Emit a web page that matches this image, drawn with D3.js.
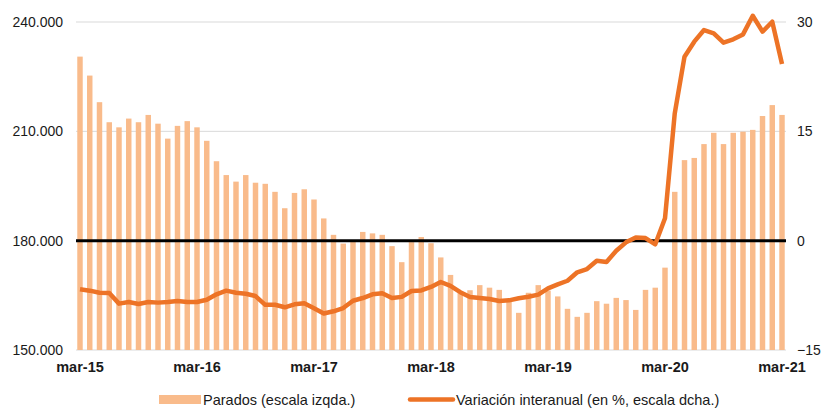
<!DOCTYPE html>
<html>
<head>
<meta charset="utf-8">
<script src="https://cdn.jsdelivr.net/npm/d3@7"></script>
<style>
  html, body { margin: 0; padding: 0; background: #fff; }
  svg { display: block; font-family: "Liberation Sans", Arial, sans-serif; }
</style>
</head>
<body>
<svg id="chart" width="821" height="408"></svg>
<script>
// ---- Data ----
const months = ["mar","abr","may","jun","jul","ago","sep","oct","nov","dic","ene","feb"];
const startYear = 15;
const nMonths = 73;

// Parados (thousands of persons), monthly mar-15 .. mar-21
const parados = [
  230.5, 225.3, 218.0, 212.5, 211.1, 213.5, 212.5, 214.5, 212.1, 208.0,
  211.5, 212.8, 211.1, 207.4, 201.8, 198.0, 196.2, 198.0, 195.9, 195.6,
  193.4, 188.9, 193.1, 194.1, 191.3, 186.1, 181.6, 179.2, 179.8, 182.4,
  182.0, 181.6, 178.5, 174.1, 179.6, 181.0, 179.3, 175.4, 170.6, 165.6,
  166.4, 167.8, 167.1, 166.5, 163.2, 160.2, 165.7, 167.8, 166.3, 164.7,
  161.3, 159.1, 160.2, 163.4, 162.7, 164.3, 163.7, 161.0, 166.5, 167.1,
  172.6, 193.4, 202.1, 202.7, 206.5, 209.6, 206.5, 209.6, 209.9, 210.4,
  214.2, 217.2, 214.5
].map(v => v * 1000);

// Variación interanual (%)
const variacion = [
  -6.67, -6.86, -7.14, -7.18, -8.64, -8.41, -8.69, -8.41, -8.50, -8.41,
  -8.28, -8.41, -8.41, -8.10, -7.36, -6.86, -7.14, -7.28, -7.60, -8.80,
  -8.79, -9.14, -8.73, -8.60, -9.28, -10.0, -9.69, -9.24, -8.24, -7.87,
  -7.36, -7.22, -7.87, -7.71, -6.90, -6.83, -6.35, -5.67, -6.20, -7.07,
  -7.73, -7.87, -8.00, -8.28, -8.19, -7.90, -7.69, -7.40, -6.54, -5.99,
  -5.50, -4.34, -3.89, -2.75, -2.93, -1.38, -0.23, 0.45, 0.35, -0.50,
  3.07, 17.47, 25.24, 27.30, 28.90, 28.45, 27.17, 27.63, 28.30, 30.86,
  28.67, 30.04, 24.24
];

const leftTicks = [150000, 180000, 210000, 240000];
const rightTicks = [-15, 0, 15, 30];
const xTickLabels = ["mar-15","mar-16","mar-17","mar-18","mar-19","mar-20","mar-21"];

const categories = d3.range(nMonths).map(i => {
  const m = i % 12;
  const yr = startYear + Math.floor((i + 2) / 12);
  return months[m] + "-" + yr;
});

// ---- Layout ----
const svg = d3.select("#chart");
const plot = { left: 76, right: 786, top: 22, bottom: 350 };

const x = d3.scaleBand()
  .domain(categories)
  .range([plot.left, plot.right])
  .paddingInner(0.44)
  .paddingOuter(0.13);

const yL = d3.scaleLinear().domain([150000, 240000]).range([plot.bottom, plot.top]);
const yR = d3.scaleLinear().domain([-15, 30]).range([plot.bottom, plot.top]);

const locale = d3.formatLocale({ decimal: ",", thousands: ".", grouping: [3], currency: ["", "€"] });
const fmtL = locale.format(",.0f");

// Gridlines
svg.append("g")
  .selectAll("line")
  .data(leftTicks)
  .join("line")
  .attr("x1", plot.left).attr("x2", plot.right)
  .attr("y1", d => yL(d)).attr("y2", d => yL(d))
  .attr("stroke", "#d9d9d9").attr("stroke-width", 1);

// Bars
svg.append("g")
  .selectAll("rect")
  .data(parados)
  .join("rect")
  .attr("x", (d, i) => x(categories[i]))
  .attr("width", x.bandwidth())
  .attr("y", d => yL(d))
  .attr("height", d => yL(150000) - yL(d))
  .attr("fill", "#f9bb8b");

// Zero / 180.000 line
svg.append("line")
  .attr("x1", plot.left).attr("x2", plot.right)
  .attr("y1", yR(0)).attr("y2", yR(0))
  .attr("stroke", "#000").attr("stroke-width", 3);

// Line series
const line = d3.line()
  .x((d, i) => x(categories[i]) + x.bandwidth() / 2)
  .y(d => yR(d));

svg.append("path")
  .datum(variacion)
  .attr("d", line)
  .attr("fill", "none")
  .attr("stroke", "#ed7326")
  .attr("stroke-width", 4.5)
  .attr("stroke-linejoin", "round")
  .attr("stroke-linecap", "butt");

// Left axis labels
const axL = d3.axisLeft(yL).tickValues(leftTicks).tickFormat(fmtL).tickSize(0).tickPadding(0);
const gL = svg.append("g").attr("transform", `translate(63,0)`).call(axL);
gL.select(".domain").remove();
gL.selectAll("text").attr("font-size", 14).attr("fill", "#1a1a1a")
  .attr("font-family", "'Liberation Sans', Arial, sans-serif");

// Right axis labels
const axR = d3.axisRight(yR).tickValues(rightTicks).tickSize(0).tickPadding(0);
const gR = svg.append("g").attr("transform", `translate(797,0)`).call(axR);
gR.select(".domain").remove();
gR.selectAll("text").attr("font-size", 14).attr("fill", "#1a1a1a")
  .attr("font-family", "'Liberation Sans', Arial, sans-serif");

// X axis labels
const axX = d3.axisBottom(x).tickValues(xTickLabels).tickSize(0).tickPadding(0);
const gX = svg.append("g").attr("transform", `translate(0,362)`).call(axX);
gX.select(".domain").remove();
gX.selectAll("text").attr("font-size", 14.5).attr("font-weight", "bold").attr("fill", "#1a1a1a")
  .attr("font-family", "'Liberation Sans', Arial, sans-serif");

// Legend
const lg = svg.append("g");
lg.append("rect").attr("x", 159).attr("y", 395).attr("width", 42).attr("height", 9).attr("fill", "#f9bb8b");
lg.append("text").attr("x", 203).attr("y", 405).attr("font-size", 14.5).attr("fill", "#1a1a1a")
  .text("Parados (escala izqda.)");
lg.append("line").attr("x1", 410).attr("x2", 453).attr("y1", 399.5).attr("y2", 399.5)
  .attr("stroke", "#ed7326").attr("stroke-width", 4.5).attr("stroke-linecap", "round");
lg.append("text").attr("x", 456).attr("y", 405).attr("font-size", 14.5).attr("fill", "#1a1a1a")
  .text("Variación interanual (en %, escala dcha.)");
</script>
</body>
</html>
